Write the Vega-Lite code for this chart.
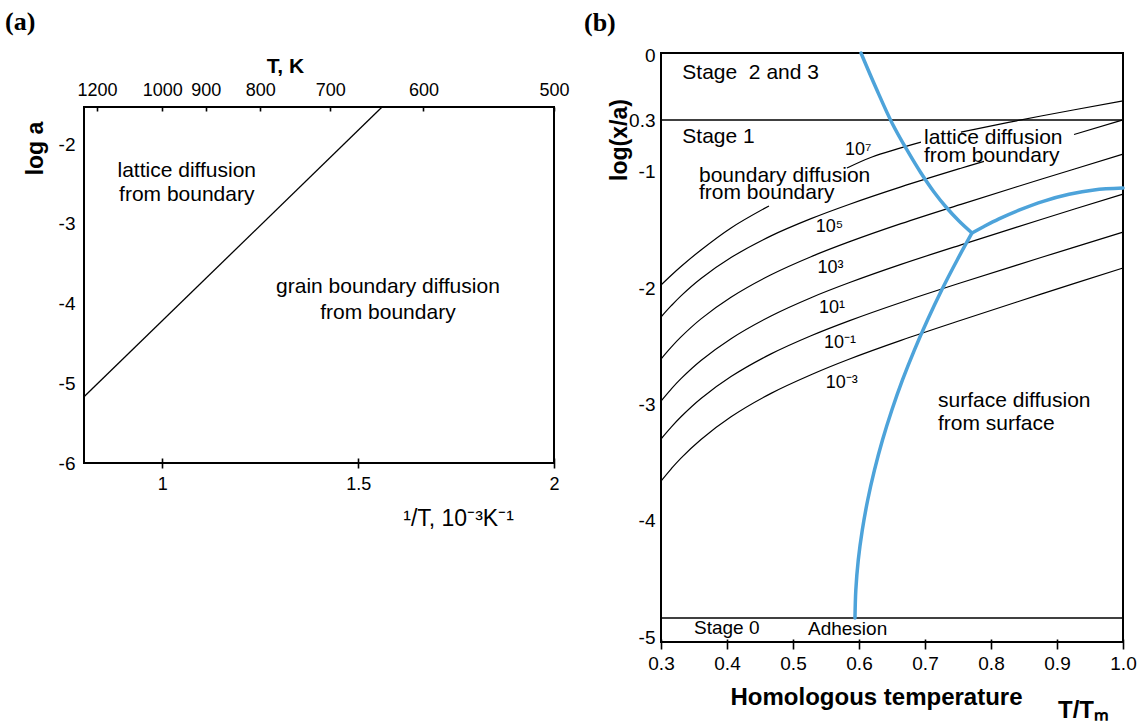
{
  "$schema": "https://vega.github.io/schema/vega-lite/v6.json",
  "background": "white",
  "padding": {"top": 9, "left": 5, "right": 5, "bottom": 0},
  "spacing": 12,
  "config": {
    "font": "Liberation Sans",
    "concat": {"spacing": 0},
    "view": {"stroke": "#000000", "strokeWidth": 2},
    "axis": {"grid": false, "domain": false, "labelColor": "#000", "titleColor": "#000", "tickColor": "#000", "labelFont": "Liberation Sans", "titleFont": "Liberation Sans", "tickWidth": 1.6, "labelOverlap": false, "labelFlush": false, "labelBound": false},
    "title": {"font": "Liberation Serif", "fontSize": 26, "fontWeight": "bold", "color": "#000", "anchor": "start"}
  },
  "hconcat": [
    {
      "title": {"text": "(a)", "dx": -18, "offset": 18},
      "spacing": 0,
      "vconcat": [
        {
          "width": 1,
          "height": 0.001,
          "view": {"stroke": null},
          "data": {"values": [{"k": 1}]},
          "mark": {"type": "point", "filled": true, "size": 0, "opacity": 0, "strokeWidth": 0}
        },
        {
          "width": 470,
          "height": 356,
          "layer": [
            {
              "data": {"values": [{"invT": 0.8, "loga": -5.17}, {"invT": 1.561, "loga": -1.536}]},
              "mark": {"type": "line", "color": "#000", "strokeWidth": 1.3},
              "encoding": {
                "x": {"field": "invT", "type": "quantitative", "scale": {"domain": [0.8, 2], "nice": false, "zero": false},
                  "axis": {"orient": "bottom", "values": [1, 1.5, 2], "labelExpr": "'' + datum.value", "offset": -5, "tickSize": 10, "labelPadding": 7, "labelFontSize": 18, "title": "¹/T, 10⁻³K⁻¹", "titleFontSize": 23, "titleFontWeight": "normal", "titleX": 374, "titleY": 60, "titleBaseline": "middle"}},
                "y": {"field": "loga", "type": "quantitative", "scale": {"domain": [-6, -1.535], "nice": false, "zero": false},
                  "axis": {"orient": "left", "values": [-6, -5, -4, -3, -2], "labelExpr": "'' + datum.value", "ticks": false, "labelPadding": 9, "labelFontSize": 19, "title": "log a", "titleFontSize": 23, "titleFontWeight": "bold", "titleX": -49, "titleY": 41, "titleBaseline": "middle"}}
              }
            },
            {
              "data": {"values": [
                {"invT": 1.0624, "loga": -2.338, "label": "lattice diffusion"},
                {"invT": 1.0624, "loga": -2.64, "label": "from boundary"},
                {"invT": 1.576, "loga": -3.795, "label": "grain boundary diffusion"},
                {"invT": 1.576, "loga": -4.121, "label": "from boundary"}
              ]},
              "mark": {"type": "text", "fontSize": 21, "align": "center", "baseline": "middle", "color": "#000"},
              "encoding": {
                "x": {"field": "invT", "type": "quantitative", "scale": {"domain": [0.8, 2], "nice": false, "zero": false},
                  "axis": {"orient": "top", "values": [0.83333, 1, 1.11111, 1.25, 1.42857, 1.66667, 2], "labelExpr": "format(1000/datum.value, '.0f')", "offset": -4, "tickSize": 4, "labelPadding": 8, "labelFontSize": 18, "title": "T, K", "titleFontSize": 21, "titleFontWeight": "bold", "titleX": 201, "titleY": -45, "titleBaseline": "middle"}},
                "y": {"field": "loga", "type": "quantitative", "scale": {"domain": [-6, -1.535], "nice": false, "zero": false}},
                "text": {"field": "label"}
              }
            }
          ],
          "resolve": {"axis": {"x": "independent"}}
        }
      ]
    },
    {
      "width": 462,
      "height": 589,
      "title": {"text": "(b)", "dx": -24, "offset": 10},
      "layer": [
        {
          "data": {"values": [{"y": -0.556}, {"y": -4.834}]},
          "mark": {"type": "rule", "color": "#000", "strokeWidth": 1.5},
          "encoding": {
            "y": {"field": "y", "type": "quantitative", "scale": {"domain": [-5.04, 0.02], "nice": false, "zero": false},
              "axis": {"orient": "left", "values": [0, -0.556, -1, -2, -3, -4, -5], "labelExpr": "datum.value < -0.5 && datum.value > -0.6 ? '0.3' : '' + datum.value", "ticks": false, "labelPadding": 6, "labelFontSize": 19, "title": "log(x/a)", "titleFontSize": 23, "titleFontWeight": "bold", "titleX": -42, "titleY": 86.5, "titleBaseline": "middle"}}
          }
        },
        {
          "data": {"values": [
            {"c": "c1a", "x": 0.3, "y": -1.973}, {"c": "c1a", "x": 0.3152, "y": -1.891}, {"c": "c1a", "x": 0.3303, "y": -1.814}, {"c": "c1a", "x": 0.3606, "y": -1.672}, {"c": "c1a", "x": 0.4061, "y": -1.483}, {"c": "c1a", "x": 0.4636, "y": -1.294},
            {"c": "c1b", "x": 0.5818, "y": -0.968}, {"c": "c1b", "x": 0.6197, "y": -0.873}, {"c": "c1b", "x": 0.6939, "y": -0.745},
            {"c": "c1c", "x": 0.7545, "y": -0.659}, {"c": "c1c", "x": 0.8758, "y": -0.521}, {"c": "c1c", "x": 1.0, "y": -0.392},
            {"c": "c2a", "x": 0.3, "y": -2.248}, {"c": "c2a", "x": 0.3152, "y": -2.153}, {"c": "c2a", "x": 0.3303, "y": -2.066}, {"c": "c2a", "x": 0.3606, "y": -1.917}, {"c": "c2a", "x": 0.4061, "y": -1.737}, {"c": "c2a", "x": 0.4667, "y": -1.551}, {"c": "c2a", "x": 0.5273, "y": -1.403}, {"c": "c2a", "x": 0.5848, "y": -1.281}, {"c": "c2a", "x": 0.6636, "y": -1.13}, {"c": "c2a", "x": 0.7545, "y": -0.97}, {"c": "c2a", "x": 0.7894, "y": -0.911},
            {"c": "c2b", "x": 0.9258, "y": -0.68}, {"c": "c2b", "x": 1.0, "y": -0.555},
            {"c": "c3", "x": 0.3, "y": -2.609}, {"c": "c3", "x": 0.3152, "y": -2.509}, {"c": "c3", "x": 0.3303, "y": -2.419}, {"c": "c3", "x": 0.3606, "y": -2.264}, {"c": "c3", "x": 0.4061, "y": -2.078}, {"c": "c3", "x": 0.4667, "y": -1.885}, {"c": "c3", "x": 0.5273, "y": -1.73}, {"c": "c3", "x": 0.5848, "y": -1.603}, {"c": "c3", "x": 0.6636, "y": -1.446}, {"c": "c3", "x": 0.7545, "y": -1.28}, {"c": "c3", "x": 0.8758, "y": -1.065}, {"c": "c3", "x": 1.0, "y": -0.849},
            {"c": "c4", "x": 0.3, "y": -2.97}, {"c": "c4", "x": 0.3152, "y": -2.869}, {"c": "c4", "x": 0.3303, "y": -2.778}, {"c": "c4", "x": 0.3606, "y": -2.622}, {"c": "c4", "x": 0.4061, "y": -2.434}, {"c": "c4", "x": 0.4667, "y": -2.239}, {"c": "c4", "x": 0.5273, "y": -2.082}, {"c": "c4", "x": 0.5848, "y": -1.954}, {"c": "c4", "x": 0.6636, "y": -1.796}, {"c": "c4", "x": 0.7545, "y": -1.628}, {"c": "c4", "x": 0.8758, "y": -1.41}, {"c": "c4", "x": 1.0, "y": -1.192},
            {"c": "c5", "x": 0.3, "y": -3.296}, {"c": "c5", "x": 0.3152, "y": -3.196}, {"c": "c5", "x": 0.3303, "y": -3.105}, {"c": "c5", "x": 0.3606, "y": -2.948}, {"c": "c5", "x": 0.4061, "y": -2.76}, {"c": "c5", "x": 0.4667, "y": -2.565}, {"c": "c5", "x": 0.5273, "y": -2.409}, {"c": "c5", "x": 0.5848, "y": -2.281}, {"c": "c5", "x": 0.6636, "y": -2.123}, {"c": "c5", "x": 0.7545, "y": -1.954}, {"c": "c5", "x": 0.8758, "y": -1.737}, {"c": "c5", "x": 1.0, "y": -1.519},
            {"c": "c6", "x": 0.3, "y": -3.657}, {"c": "c6", "x": 0.3152, "y": -3.554}, {"c": "c6", "x": 0.3303, "y": -3.46}, {"c": "c6", "x": 0.3606, "y": -3.3}, {"c": "c6", "x": 0.4061, "y": -3.105}, {"c": "c6", "x": 0.4667, "y": -2.904}, {"c": "c6", "x": 0.5273, "y": -2.744}, {"c": "c6", "x": 0.5848, "y": -2.611}, {"c": "c6", "x": 0.6636, "y": -2.449}, {"c": "c6", "x": 0.7545, "y": -2.276}, {"c": "c6", "x": 0.8758, "y": -2.052}, {"c": "c6", "x": 1.0, "y": -1.827}
          ]},
          "mark": {"type": "line", "color": "#000", "strokeWidth": 1.2, "interpolate": "catmull-rom"},
          "encoding": {
            "x": {"field": "x", "type": "quantitative", "scale": {"domain": [0.3, 1], "nice": false, "zero": false},
              "axis": {"orient": "bottom", "values": [0.3, 0.4, 0.5, 0.6, 0.7, 0.8, 0.9, 1.0], "format": ".1f", "offset": -3, "tickSize": 10, "labelPadding": 5, "labelFontSize": 19, "title": "Homologous temperature", "titleFontSize": 24, "titleFontWeight": "bold", "titleX": 215, "titleY": 58, "titleBaseline": "middle"}},
            "y": {"field": "y", "type": "quantitative", "scale": {"domain": [-5.04, 0.02], "nice": false, "zero": false}},
            "detail": {"field": "c"}
          }
        },
        {
          "data": {"values": [
            {"s": "b1", "x": 0.603, "y": 0.02}, {"s": "b1", "x": 0.6258, "y": -0.281}, {"s": "b1", "x": 0.65, "y": -0.581}, {"s": "b1", "x": 0.6727, "y": -0.813}, {"s": "b1", "x": 0.6939, "y": -1.011}, {"s": "b1", "x": 0.7136, "y": -1.174}, {"s": "b1", "x": 0.7318, "y": -1.303}, {"s": "b1", "x": 0.7515, "y": -1.423}, {"s": "b1", "x": 0.7712, "y": -1.526},
            {"s": "b2", "x": 0.7712, "y": -1.526}, {"s": "b2", "x": 0.7894, "y": -1.47}, {"s": "b2", "x": 0.8121, "y": -1.405}, {"s": "b2", "x": 0.8424, "y": -1.33}, {"s": "b2", "x": 0.8803, "y": -1.252}, {"s": "b2", "x": 0.9182, "y": -1.194}, {"s": "b2", "x": 0.9561, "y": -1.156}, {"s": "b2", "x": 1.0, "y": -1.14},
            {"s": "b3", "x": 0.7712, "y": -1.526}, {"s": "b3", "x": 0.7488, "y": -1.758}, {"s": "b3", "x": 0.7253, "y": -2.016}, {"s": "b3", "x": 0.7038, "y": -2.274}, {"s": "b3", "x": 0.6839, "y": -2.532}, {"s": "b3", "x": 0.6659, "y": -2.789}, {"s": "b3", "x": 0.6498, "y": -3.047}, {"s": "b3", "x": 0.6356, "y": -3.305}, {"s": "b3", "x": 0.6235, "y": -3.562}, {"s": "b3", "x": 0.6132, "y": -3.82}, {"s": "b3", "x": 0.605, "y": -4.078}, {"s": "b3", "x": 0.5989, "y": -4.336}, {"s": "b3", "x": 0.5952, "y": -4.593}, {"s": "b3", "x": 0.5939, "y": -4.834}
          ]},
          "mark": {"type": "line", "color": "#4da3da", "strokeWidth": 3.5, "strokeCap": "round", "strokeJoin": "round", "interpolate": "catmull-rom"},
          "encoding": {
            "x": {"field": "x", "type": "quantitative", "scale": {"domain": [0.3, 1], "nice": false, "zero": false}, "axis": null},
            "y": {"field": "y", "type": "quantitative", "scale": {"domain": [-5.04, 0.02], "nice": false, "zero": false}},
            "detail": {"field": "s"}
          }
        },
        {
          "data": {"values": [
            {"x": 0.3323, "y": -0.149, "t": "Stage\u00a0 2 and 3"},
            {"x": 0.3323, "y": -0.702, "t": "Stage 1"},
            {"x": 0.3576, "y": -1.035, "t": "boundary diffusion"},
            {"x": 0.3576, "y": -1.186, "t": "from boundary"},
            {"x": 0.6985, "y": -0.708, "t": "lattice diffusion"},
            {"x": 0.6985, "y": -0.865, "t": "from boundary"},
            {"x": 0.7197, "y": -2.967, "t": "surface diffusion"},
            {"x": 0.7197, "y": -3.167, "t": "from surface"}
          ]},
          "mark": {"type": "text", "fontSize": 21, "align": "left", "baseline": "middle", "color": "#000"},
          "encoding": {
            "x": {"field": "x", "type": "quantitative", "scale": {"domain": [0.3, 1], "nice": false, "zero": false},
              "axis": {"orient": "bottom", "labels": false, "ticks": false, "domain": false, "title": "T/Tₘ", "titleFontSize": 24, "titleFontWeight": "bold", "titleX": 422, "titleY": 68, "titleBaseline": "middle"}},
            "y": {"field": "y", "type": "quantitative", "scale": {"domain": [-5.04, 0.02], "nice": false, "zero": false}},
            "text": {"field": "t"}
          }
        },
        {
          "data": {"values": [
            {"x": 0.35, "y": -4.922, "t": "Stage 0"},
            {"x": 0.5227, "y": -4.93, "t": "Adhesion"}
          ]},
          "mark": {"type": "text", "fontSize": 19, "align": "left", "baseline": "middle", "color": "#000"},
          "encoding": {
            "x": {"field": "x", "type": "quantitative", "scale": {"domain": [0.3, 1], "nice": false, "zero": false}, "axis": null},
            "y": {"field": "y", "type": "quantitative", "scale": {"domain": [-5.04, 0.02], "nice": false, "zero": false}},
            "text": {"field": "t"}
          }
        },
        {
          "data": {"values": [
            {"x": 0.5788, "y": -0.813, "t": "10⁷"},
            {"x": 0.5344, "y": -1.472, "t": "10⁵"},
            {"x": 0.537, "y": -1.83, "t": "10³"},
            {"x": 0.5394, "y": -2.174, "t": "10¹"},
            {"x": 0.547, "y": -2.474, "t": "10⁻¹"},
            {"x": 0.5495, "y": -2.818, "t": "10⁻³"}
          ]},
          "mark": {"type": "text", "fontSize": 18, "align": "left", "baseline": "middle", "color": "#000"},
          "encoding": {
            "x": {"field": "x", "type": "quantitative", "scale": {"domain": [0.3, 1], "nice": false, "zero": false}, "axis": null},
            "y": {"field": "y", "type": "quantitative", "scale": {"domain": [-5.04, 0.02], "nice": false, "zero": false}},
            "text": {"field": "t"}
          }
        }
      ],
      "resolve": {"axis": {"x": "independent"}}
    }
  ]
}
